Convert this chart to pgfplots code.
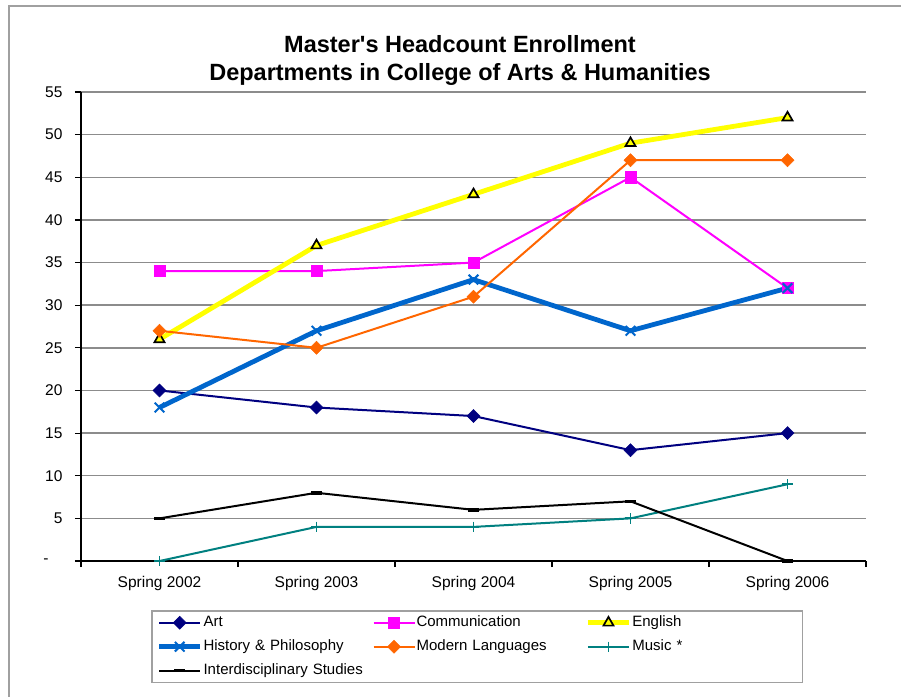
\documentclass[border=0pt]{standalone}
\usepackage{fontspec}
\setmainfont{Liberation Sans}[Ligatures=TeXOff]
\usepackage{pgfplots}
\usepackage{pgfplotstable}
\pgfplotsset{compat=1.18}

\definecolor{artc}{RGB}{0,0,128}
\definecolor{commc}{RGB}{255,0,255}
\definecolor{engc}{RGB}{255,255,0}
\definecolor{histc}{RGB}{0,102,204}
\definecolor{modc}{RGB}{255,102,0}
\definecolor{musc}{RGB}{0,128,128}
\definecolor{gridc}{RGB}{140,140,140}
\definecolor{framec}{RGB}{160,160,160}

% enrollment by semester, categories at 0.5 ... 4.5
\pgfplotstableread{
x   art comm eng hist mod mus inter
0.5 20  34   26  18   27  0   5
1.5 18  34   37  27   25  4   8
2.5 17  35   43  33   31  4   6
3.5 13  45   49  27   47  5   7
4.5 15  32   52  32   47  9   0
}\enroll

\begin{document}
\begin{tikzpicture}
\useasboundingbox (0pt,0pt) rectangle (901pt,-696pt);
\fill[white] (0pt,0pt) rectangle (901pt,-696pt);
\draw[line width=1.5pt, framec] (9pt,-6pt) rectangle (940pt,-740pt);
\node[anchor=base, font=\fontsize{23.5}{28}\selectfont\bfseries] at (460pt,-52pt) {Master's Headcount Enrollment};
\node[anchor=base, font=\fontsize{23.5}{28}\selectfont\bfseries] at (460pt,-80pt) {Departments in College of Arts \& Humanities};
\begin{axis}[
    at={(81pt,-561pt)}, anchor=south west,
    scale only axis, width=785pt, height=469pt,
    xmin=0, xmax=5, ymin=0, ymax=55,
    clip=false,
    axis x line*=bottom, axis y line*=left,
    axis line style={line width=1.2pt, black},
    xtick={0.5,1.5,2.5,3.5,4.5},
    xticklabels={Spring 2002,Spring 2003,Spring 2004,Spring 2005,Spring 2006},
    minor xtick={0,1,2,3,4,5},
    major x tick style={draw=none},
    ytick={0,5,...,55},
    yticklabels={-\hspace*{14pt},5,10,15,20,25,30,35,40,45,50,55},
    tick align=outside,
    major tick length=6pt, minor tick length=6pt,
    tick style={line width=1.2pt, black},
    ymajorgrids,
    grid style={line width=1.5pt, gridc},
    tick label style={font=\fontsize{15.5}{18}\selectfont},
    yticklabel style={xshift=-9pt},
    xticklabel style={yshift=-6pt},
    legend columns=3,
    legend cell align=left,
    legend image code/.code={\draw[mark repeat=2,mark phase=2,#1] plot coordinates {(0pt,0pt) (20.5pt,0pt) (41pt,0pt)};},
    legend style={
        at={(0.0892,-0.1045)}, anchor=north west,
        draw=framec, line width=1.5pt,
        font=\fontsize{15}{18}\selectfont,
        inner xsep=5pt, inner ysep=5pt,
        row sep=10.1pt,
        /tikz/every even column/.append style={column sep=4pt},
        nodes={text width=164pt, align=left, inner xsep=1pt, inner ysep=0pt, text height=10.9pt, text depth=3pt},
    },
]
\addplot[artc, line width=2pt, mark=square*, mark size=4.6pt,
    mark options={rotate=45, solid, fill=artc, draw=artc, line width=0.5pt}]
    table[x=x, y=art] {\enroll};
\addlegendentry{Art}
\addplot[commc, line width=2pt, mark=square*, mark size=5.6pt,
    mark options={solid, fill=commc, draw=commc, line width=0.5pt}]
    table[x=x, y=comm] {\enroll};
\addlegendentry{Communication}
\addplot[engc, line width=4.8pt, mark=triangle*, mark size=5.8pt,
    mark options={solid, fill=engc, draw=black, line width=1.7pt}]
    table[x=x, y=eng] {\enroll};
\addlegendentry{English}
\addplot[histc, line width=4.8pt, mark=x, mark size=6.8pt,
    mark options={solid, draw=histc, line width=2pt}]
    table[x=x, y=hist] {\enroll};
\addlegendentry{History \& Philosophy}
\addplot[modc, line width=2pt, mark=square*, mark size=4.6pt,
    mark options={rotate=45, solid, fill=modc, draw=modc, line width=0.5pt}]
    table[x=x, y=mod] {\enroll};
\addlegendentry{Modern Languages}
\addplot[musc, line width=2pt, mark=+, mark size=5.2pt,
    mark options={solid, draw=musc, line width=1.8pt}]
    table[x=x, y=mus] {\enroll};
\addlegendentry{Music *}
\addplot[black, line width=2pt, mark=-, mark size=5.5pt,
    mark options={solid, draw=black, line width=3.5pt}]
    table[x=x, y=inter] {\enroll};
\addlegendentry{\mbox{Interdisciplinary Studies}}
\end{axis}
\end{tikzpicture}
\end{document}
